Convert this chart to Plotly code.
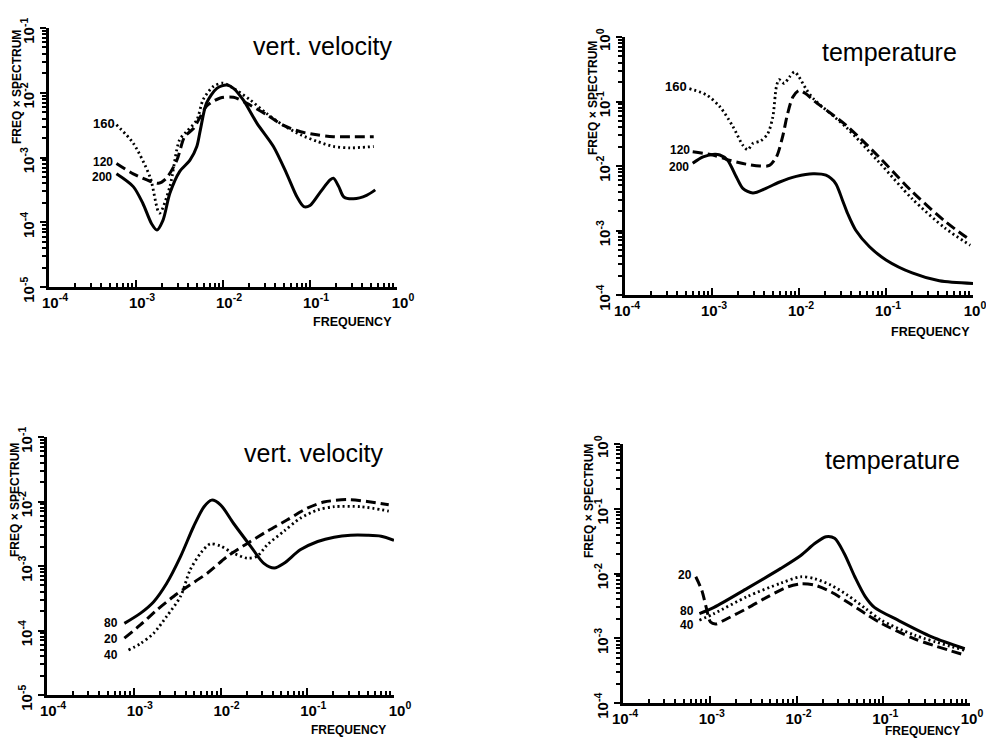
import plotly.graph_objects as go

# ---------------- data ----------------
# Panel 1: vert. velocity, heights 160 / 120 / 200
p1_f_160 = [5.96e-4, 9.3e-4, 1.45e-3, 1.86e-3, 2.45e-3, 3.16e-3, 3.8e-3, 5.0e-3, 5.9e-3, 7.8e-3,
            1.0e-2, 1.32e-2, 2.04e-2, 3.16e-2, 4.9e-2, 7.8e-2, 0.12, 0.186, 0.29, 0.54]
p1_s_160 = [3.2e-3, 1.66e-3, 5.0e-4, 1.38e-4, 3.55e-4, 1.86e-3, 2.5e-3, 3.8e-3, 7.8e-3, 1.26e-2,
            1.41e-2, 1.17e-2, 7.8e-3, 4.8e-3, 3.16e-3, 2.24e-3, 1.78e-3, 1.48e-3, 1.41e-3, 1.48e-3]
p1_f_120 = [5.96e-4, 9.3e-4, 1.45e-3, 1.82e-3, 2.24e-3, 2.95e-3, 3.63e-3, 4.57e-3, 5.5e-3, 6.46e-3,
            9.3e-3, 1.32e-2, 1.86e-2, 3.16e-2, 4.9e-2, 7.8e-2, 0.12, 0.186, 0.54]
p1_s_120 = [8.1e-4, 5.6e-4, 4.3e-4, 4.0e-4, 4.8e-4, 9.1e-4, 2.1e-3, 2.8e-3, 4.3e-3, 6.2e-3,
            8.3e-3, 8.5e-3, 6.9e-3, 4.6e-3, 3.16e-3, 2.5e-3, 2.24e-3, 2.1e-3, 2.1e-3]
p1_f_200 = [5.96e-4, 9.3e-4, 1.2e-3, 1.51e-3, 1.74e-3, 2.04e-3, 2.45e-3, 3.16e-3, 4.17e-3, 5.0e-3,
            5.5e-3, 6.46e-3, 8.5e-3, 1.1e-2, 1.32e-2, 1.7e-2, 2.45e-2, 3.8e-2, 5.4e-2, 7.1e-2,
            8.5e-2, 0.1, 0.132, 0.17, 0.186, 0.214, 0.245, 0.316, 0.447, 0.562]
p1_s_200 = [5.6e-4, 3.55e-4, 1.95e-4, 9.5e-5, 7.6e-5, 1.07e-4, 2.8e-4, 6.0e-4, 9.1e-4, 1.48e-3,
            2.7e-3, 6.9e-3, 1.17e-2, 1.32e-2, 1.17e-2, 7.8e-3, 3.4e-3, 1.48e-3, 5.6e-4, 2.45e-4,
            1.74e-4, 1.82e-4, 2.95e-4, 4.5e-4, 4.8e-4, 3.55e-4, 2.45e-4, 2.3e-4, 2.6e-4, 3.16e-4]

# Panel 2: temperature, heights 160 / 120 / 200
p2_f_160 = [5.5e-4, 8.7e-4, 1.23e-3, 1.74e-3, 2.26e-3, 2.57e-3, 2.95e-3, 3.63e-3, 4.37e-3, 5.0e-3,
            5.5e-3, 5.9e-3, 6.76e-3, 7.76e-3, 8.9e-3, 1.0e-2, 1.2e-2, 1.45e-2, 3.47e-2, 8.3e-2,
            0.2, 0.48, 0.93]
p2_s_160 = [0.158, 0.126, 8.3e-2, 4.1e-2, 2.1e-2, 1.78e-2, 2.24e-2, 2.45e-2, 3.16e-2, 5.75e-2,
            0.17, 0.219, 0.19, 0.24, 0.288, 0.24, 0.158, 0.112, 4.0e-2, 1.15e-2,
            3.1e-3, 1.08e-3, 5.9e-4]
p2_f_120 = [6.0e-4, 1.02e-3, 1.58e-3, 2.45e-3, 3.55e-3, 4.57e-3, 5.5e-3, 6.46e-3, 7.4e-3, 8.5e-3,
            1.0e-2, 1.2e-2, 1.45e-2, 3.47e-2, 8.3e-2, 0.2, 0.48, 0.93]
p2_s_120 = [1.66e-2, 1.48e-2, 1.23e-2, 1.07e-2, 1.0e-2, 1.02e-2, 1.38e-2, 2.8e-2, 6.5e-2, 0.117,
            0.148, 0.132, 0.105, 4.3e-2, 1.38e-2, 4.0e-3, 1.38e-3, 7.1e-4]
p2_f_200 = [6.0e-4, 7.9e-4, 1.02e-3, 1.23e-3, 1.51e-3, 1.9e-3, 2.26e-3, 2.95e-3, 4.17e-3, 5.9e-3,
            9.3e-3, 1.45e-2, 2.04e-2, 2.63e-2, 3.16e-2, 3.63e-2, 4.47e-2, 6.46e-2, 0.1, 0.2,
            0.41, 1.0]
p2_s_200 = [1.1e-2, 1.38e-2, 1.51e-2, 1.48e-2, 1.23e-2, 6.8e-3, 4.5e-3, 3.8e-3, 4.5e-3, 5.6e-3,
            6.9e-3, 7.6e-3, 7.2e-3, 5.4e-3, 2.95e-3, 1.82e-3, 1.02e-3, 5.6e-4, 3.5e-4, 2.2e-4,
            1.66e-4, 1.51e-4]

# Panel 3: vert. velocity, heights 80 / 20 / 40
p3_f_80 = [7.8e-4, 1.2e-3, 1.7e-3, 2.4e-3, 3.47e-3, 4.9e-3, 6.46e-3, 7.9e-3, 1.0e-2, 1.41e-2,
           2.24e-2, 3.16e-2, 4.17e-2, 5.4e-2, 8.3e-2, 0.132, 0.204, 0.316, 0.49, 0.71, 1.0]
p3_s_80 = [1.29e-4, 1.86e-4, 2.8e-4, 5.4e-4, 1.41e-3, 4.1e-3, 8.3e-3, 1.05e-2, 8.9e-3, 4.6e-3,
           2.0e-3, 1.1e-3, 9.3e-4, 1.1e-3, 1.78e-3, 2.4e-3, 2.8e-3, 3.0e-3, 3.0e-3, 2.9e-3, 2.5e-3]
p3_f_20 = [7.8e-4, 1.2e-3, 1.86e-3, 2.9e-3, 4.17e-3, 7.1e-3, 1.2e-2, 2.04e-2, 3.47e-2, 5.9e-2,
           0.1, 0.155, 0.29, 0.49, 0.87]
p3_s_20 = [7.6e-5, 1.23e-4, 2.1e-4, 3.4e-4, 4.8e-4, 7.8e-4, 1.41e-3, 2.24e-3, 3.47e-3, 5.2e-3,
           7.9e-3, 9.8e-3, 1.07e-2, 1.0e-2, 8.9e-3]
p3_f_40 = [8.7e-4, 1.2e-3, 1.7e-3, 2.4e-3, 3.47e-3, 4.47e-3, 5.9e-3, 7.6e-3, 1.0e-2, 1.41e-2,
           2.04e-2, 2.63e-2, 3.47e-2, 5.4e-2, 8.3e-2, 0.132, 0.204, 0.417, 0.87]
p3_s_40 = [5.0e-5, 6.3e-5, 9.1e-5, 1.66e-4, 3.4e-4, 8.7e-4, 1.58e-3, 2.2e-3, 2.04e-3, 1.58e-3,
           1.32e-3, 1.41e-3, 2.14e-3, 3.47e-3, 5.5e-3, 7.4e-3, 8.3e-3, 8.3e-3, 7.1e-3]

# Panel 4: temperature, heights 80 / 20 / 40
p4_f_80 = [7.6e-4, 1.12e-3, 2.7e-3, 6.6e-3, 1.12e-2, 1.62e-2, 2.19e-2, 2.75e-2, 3.55e-2, 4.7e-2,
           6.2e-2, 7.9e-2, 0.148, 0.363, 0.87]
p4_s_80 = [2.4e-3, 3.0e-3, 5.9e-3, 1.2e-2, 1.9e-2, 2.9e-2, 3.7e-2, 3.5e-2, 2.04e-2, 8.9e-3,
           4.4e-3, 3.0e-3, 1.9e-3, 1.05e-3, 6.9e-4]
p4_f_20 = [6.9e-4, 8.1e-4, 9.1e-4, 1.02e-3, 1.17e-3, 1.58e-3, 2.7e-3, 4.7e-3, 7.9e-3, 1.12e-2,
           1.62e-2, 2.5e-2, 3.9e-2, 6.2e-2, 9.5e-2, 0.229, 0.87]
p4_s_20 = [8.9e-3, 5.5e-3, 3.0e-3, 1.78e-3, 1.66e-3, 2.0e-3, 2.9e-3, 4.4e-3, 6.2e-3, 6.9e-3,
           6.6e-3, 5.2e-3, 3.6e-3, 2.4e-3, 1.7e-3, 9.8e-4, 5.5e-4]
p4_f_40 = [7.6e-4, 1.12e-3, 2.7e-3, 6.6e-3, 1.12e-2, 1.62e-2, 2.5e-2, 3.9e-2, 6.2e-2, 9.5e-2,
           0.229, 0.87]
p4_s_40 = [1.9e-3, 2.4e-3, 4.4e-3, 7.1e-3, 8.9e-3, 8.3e-3, 6.6e-3, 4.6e-3, 2.9e-3, 1.9e-3,
           1.12e-3, 6.5e-4]

# tick labels
x_tickvals = [1e-4, 1e-3, 1e-2, 1e-1, 1e0]
x_ticktext = ["10<sup>-4</sup>", "10<sup>-3</sup>", "10<sup>-2</sup>", "10<sup>-1</sup>", "10<sup>0</sup>"]
yv_tickvals = [1e-5, 1e-4, 1e-3, 1e-2, 1e-1]
yv_ticktext = ["10<sup>-5</sup>", "10<sup>-4</sup>", "10<sup>-3</sup>", "10<sup>-2</sup>", "10<sup>-1</sup>"]
yt_tickvals = [1e-4, 1e-3, 1e-2, 1e-1, 1e0]
yt_ticktext = ["10<sup>-4</sup>", "10<sup>-3</sup>", "10<sup>-2</sup>", "10<sup>-1</sup>", "10<sup>0</sup>"]

panel_titles = ["vert. velocity", "temperature", "vert. velocity", "temperature"]

# ---------------- figure ----------------
# the page body has an 8px margin, so the figure is drawn 16px smaller and offset by 8px
OFF = 8
W, H = 994 - 2 * OFF, 747 - 2 * OFF
FONT = "Liberation Sans, Arial, sans-serif"
SOLID = dict(color="black", width=3, dash="solid", shape="spline", smoothing=0.8)
DASH = dict(color="black", width=3, dash="10px,5px", shape="spline", smoothing=0.8)
DOT = dict(color="black", width=2.8, dash="2px,3px", shape="spline", smoothing=0.8)


def px_x(px):
    return (px - OFF) / W


def px_y(py):
    return 1 - (py - OFF) / H


fig = go.Figure()

series = [
    (1, p1_f_160, p1_s_160, DOT), (1, p1_f_120, p1_s_120, DASH), (1, p1_f_200, p1_s_200, SOLID),
    (2, p2_f_160, p2_s_160, DOT), (2, p2_f_120, p2_s_120, DASH), (2, p2_f_200, p2_s_200, SOLID),
    (3, p3_f_80, p3_s_80, SOLID), (3, p3_f_20, p3_s_20, DASH), (3, p3_f_40, p3_s_40, DOT),
    (4, p4_f_80, p4_s_80, SOLID), (4, p4_f_20, p4_s_20, DASH), (4, p4_f_40, p4_s_40, DOT),
]
for k, fx, sy, ln in series:
    sfx = "" if k == 1 else str(k)
    fig.add_trace(go.Scatter(x=fx, y=sy, mode="lines", line=ln, showlegend=False,
                             hoverinfo="skip", xaxis="x" + sfx, yaxis="y" + sfx))

# pixel boxes of the four plot areas in the 994x747 window: (left, right, top, bottom)
boxes = {1: (49, 397, 28, 287), 2: (625, 973, 37, 295), 3: (47, 394, 437, 695), 4: (623, 970, 444, 703)}
yranges = {1: [-5, -1], 2: [-4, 0], 3: [-5, -1], 4: [-4, 0]}
yticks = {1: (yv_tickvals, yv_ticktext), 2: (yt_tickvals, yt_ticktext),
          3: (yv_tickvals, yv_ticktext), 4: (yt_tickvals, yt_ticktext)}
xshift = {1: 6, 2: 2, 3: 6, 4: 2}

minor_vals = [m * 10.0 ** e for e in range(-6, 1) for m in range(2, 10)]
tickfont = dict(family=FONT, size=15, color="black", weight="bold")

layout = {}
for k, (l, r, t, b) in boxes.items():
    sfx = "" if k == 1 else str(k)
    layout["xaxis" + sfx] = dict(
        type="log", range=[-4, 0], domain=[px_x(l), px_x(r)], anchor="y" + sfx, automargin=False,
        showline=True, linecolor="black", linewidth=2.5, showgrid=False, zeroline=False,
        tickmode="array", tickvals=x_tickvals, ticktext=x_ticktext,
        ticklabelshift=xshift[k], ticklabeloverflow="allow",
        ticks="inside", ticklen=7, tickwidth=2, tickcolor="black", tickfont=tickfont,
        minor=dict(tickmode="array", tickvals=minor_vals, ticks="inside", ticklen=4,
                   tickwidth=1.5, tickcolor="black", showgrid=False),
    )
    tv, tt = yticks[k]
    layout["yaxis" + sfx] = dict(
        type="log", range=yranges[k], domain=[px_y(b), px_y(t)], anchor="x" + sfx,
        automargin=False,
        showline=True, linecolor="black", linewidth=2.5, showgrid=False, zeroline=False,
        tickmode="array", tickvals=tv, ticktext=tt, tickangle=-90,
        ticklabelshift=5, ticklabeloverflow="allow",
        ticks="outside", ticklen=6, tickwidth=2, tickcolor="black", tickfont=tickfont,
        minor=dict(tickmode="array", tickvals=minor_vals, ticks="outside", ticklen=4,
                   tickwidth=1.5, tickcolor="black", showgrid=False),
    )


def ann(text, px, py, size, bold=False, angle=0):
    return dict(text=("<b>%s</b>" % text) if bold else text, x=px_x(px), y=px_y(py),
                xref="paper", yref="paper", showarrow=False, textangle=angle,
                xanchor="center", yanchor="middle",
                font=dict(family=FONT, size=size, color="black"))


annotations = [
    ann(panel_titles[0], 322, 46, 25), ann(panel_titles[1], 889, 52, 25),
    ann(panel_titles[2], 313, 453, 25), ann(panel_titles[3], 892, 460, 25),
    # axis titles
    ann("FREQ × SPECTRUM", 17, 87, 12, True, -90), ann("FREQUENCY", 352, 322, 12.5, True),
    ann("FREQ × SPECTRUM", 593, 98, 12, True, -90), ann("FREQUENCY", 930, 332, 12.5, True),
    ann("FREQ × SPECTRUM", 15, 500, 12, True, -90), ann("FREQUENCY", 348, 730, 12, True),
    ann("FREQ × SPECTRUM", 589, 501, 12, True, -90), ann("FREQUENCY", 922, 731, 12, True),
    # curve labels
    ann("160", 104, 124, 13, True), ann("120", 103, 162, 12, True), ann("200", 102, 177, 12, True),
    ann("160", 676, 87, 13, True), ann("120", 680, 150, 12, True), ann("200", 679, 167, 12, True),
    ann("80", 111, 623, 12, True), ann("20", 111, 639, 12, True), ann("40", 111, 655, 12, True),
    ann("20", 685, 575, 12, True), ann("80", 687, 611, 12, True), ann("40", 687, 625, 12, True),
]

fig.update_layout(
    width=W, height=H, margin=dict(l=0, r=0, t=0, b=0),
    paper_bgcolor="white", plot_bgcolor="white",
    font=dict(family=FONT, color="black"),
    annotations=annotations, showlegend=False,
    **layout,
)

fig.write_html("out.html")
